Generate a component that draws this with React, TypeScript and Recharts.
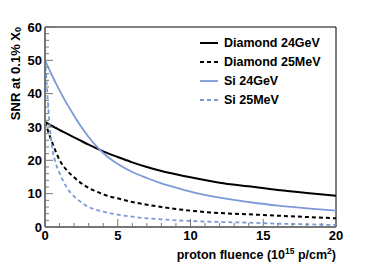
import React from 'react';
import { LineChart, Line, XAxis, YAxis, ReferenceLine, Label } from 'recharts';

const fluence = [0, 0.1, 0.2, 0.3, 0.4, 0.5, 0.75, 1, 1.5, 2, 2.5, 3, 3.5, 4, 4.5, 5, 6, 7, 8, 9, 10, 12, 14, 16, 18, 20];
const diamond24GeV = [31.5, 31.3, 31.0, 30.8, 30.5, 30.3, 29.7, 29.1, 28.0, 26.9, 25.8, 24.7, 23.7, 22.7, 21.8, 21.0, 19.4, 18.0, 16.8, 15.8, 14.9, 13.3, 12.2, 11.1, 10.2, 9.4];
const diamond25MeV = [31.5, 30.2, 28.9, 27.6, 26.4, 25.3, 22.5, 20.1, 17.0, 14.9, 13.1, 11.7, 10.7, 9.8, 9.1, 8.6, 7.5, 6.7, 6.0, 5.4, 4.9, 4.2, 3.8, 3.4, 3.0, 2.6];
const si24GeV = [50, 49.1, 48.1, 47.2, 46.2, 45.3, 43.1, 41.0, 37.0, 33.4, 30.0, 27.0, 24.4, 22.2, 20.4, 18.9, 16.5, 14.7, 13.1, 11.8, 10.6, 8.8, 7.5, 6.4, 5.6, 4.9];
const si25MeV = [50, 44, 37.5, 31.5, 27, 23.6, 19, 16.2, 11.8, 9.2, 7.4, 6.0, 5.2, 4.6, 4.1, 3.7, 3.1, 2.6, 2.3, 2.0, 1.8, 1.5, 1.3, 1.0, 0.8, 0.6];

const xTicks = Array.from({ length: 21 }, (_, i) => i);
const yTicks = Array.from({ length: 31 }, (_, i) => i * 2);

const BLUE = '#7b9ad8';
const FONT = '"Liberation Sans", Arial, sans-serif';

const data = fluence.map((f, i) => ({
    f,
    d24: diamond24GeV[i],
    d25: diamond25MeV[i],
    s24: si24GeV[i],
    s25: si25MeV[i],
}));

const series = [
    { key: 'd24', name: 'Diamond 24GeV', color: '#000', dash: undefined, width: 2 },
    { key: 'd25', name: 'Diamond 25MeV', color: '#000', dash: '4 3', width: 2 },
    { key: 's24', name: 'Si 24GeV', color: BLUE, dash: undefined, width: 1.8 },
    { key: 's25', name: 'Si 25MeV', color: BLUE, dash: '4 3', width: 1.8 },
];

function YTick(props: any) {
    const { x, y, payload } = props;
    const major = payload.value % 10 === 0;
    const ax = x + 3;
    return (
        <g>
            <line x1={ax} x2={ax + (major ? 8 : 4)} y1={y} y2={y} stroke="#777" strokeWidth={1} />
            {major && (
                <text x={x} y={y} textAnchor="end" dominantBaseline="central" fontSize={13} fontWeight="bold" fontFamily={FONT} fill="#000">
                    {payload.value}
                </text>
            )}
        </g>
    );
}

function XTick(props: any) {
    const { x, y, payload } = props;
    const major = payload.value % 5 === 0;
    const ay = y - 1;
    return (
        <g>
            <line x1={x} x2={x} y1={ay} y2={ay - (major ? 8 : 4)} stroke="#777" strokeWidth={1} />
            {major && (
                <text x={x} y={y + 12} textAnchor="middle" fontSize={13} fontWeight="bold" fontFamily={FONT} fill="#000">
                    {payload.value}
                </text>
            )}
        </g>
    );
}

function ChartLegend() {
    return (
        <div style={{ position: 'absolute', left: 199, top: 33, fontFamily: FONT, fontWeight: 'bold', fontSize: 12.5 }}>
            {series.map((s) => (
                <div key={s.key} style={{ display: 'flex', alignItems: 'center', height: 19 }}>
                    <svg width={25} height={10}>
                        <line x1={1} x2={19} y1={5} y2={5} stroke={s.color} strokeWidth={s.width} strokeDasharray={s.dash} />
                    </svg>
                    <span>{s.name}</span>
                </div>
            ))}
        </div>
    );
}

export default function App() {
    return (
        <div style={{ position: 'fixed', left: 0, top: 0, width: 374, height: 268, background: '#fff' }}>
            <LineChart width={374} height={268} data={data} margin={{ top: 27, right: 38, left: 0, bottom: 0 }}>
                <XAxis
                    dataKey="f"
                    type="number"
                    domain={[0, 20]}
                    ticks={xTicks}
                    interval={0}
                    height={41}
                    tickSize={0}
                    tickMargin={1}
                    tick={<XTick />}
                    axisLine={{ stroke: '#777', strokeWidth: 2 }}
                >
                    <Label
                        content={() => (
                            <text x={336} y={259} textAnchor="end" fontSize={12.5} fontWeight="bold" fontFamily={FONT} fill="#000">
                                proton fluence (10<tspan dy={-5} fontSize={8.5}>15</tspan>
                                <tspan dy={5}> p/cm</tspan>
                                <tspan dy={-5} fontSize={8.5}>2</tspan>
                                <tspan dy={5}>)</tspan>
                            </text>
                        )}
                    />
                </XAxis>
                <YAxis
                    type="number"
                    domain={[0, 60]}
                    ticks={yTicks}
                    interval={0}
                    width={45}
                    tickSize={0}
                    tickMargin={3}
                    tick={<YTick />}
                    axisLine={{ stroke: '#777', strokeWidth: 2 }}
                >
                    <Label
                        content={() => (
                            <text x={15} y={27} transform="rotate(-90, 15, 27)" textAnchor="end" dominantBaseline="central" fontSize={13} fontWeight="bold" fontFamily={FONT} fill="#000">
                                SNR at 0.1% X<tspan dy={3} fontSize={9}>0</tspan>
                            </text>
                        )}
                    />
                </YAxis>
                <ReferenceLine y={60} stroke="#000" strokeWidth={1} />
                <ReferenceLine x={20} stroke="#000" strokeWidth={1} />
                {series.map((s) => (
                    <Line
                        key={s.key}
                        dataKey={s.key}
                        name={s.name}
                        type="monotone"
                        stroke={s.color}
                        strokeWidth={s.width}
                        strokeDasharray={s.dash}
                        dot={false}
                        isAnimationActive={false}
                    />
                ))}
            </LineChart>
            <ChartLegend />
        </div>
    );
}
